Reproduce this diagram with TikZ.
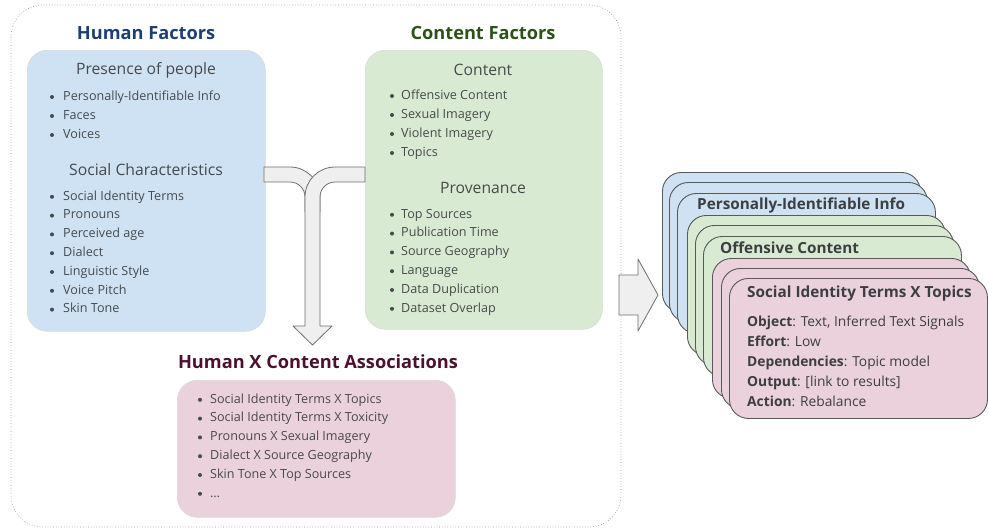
\documentclass[tikz,border=0pt]{standalone}
\usepackage{fontspec}
\setmainfont{Open Sans}
\usetikzlibrary{calc}

\definecolor{boxblue}{HTML}{CFE2F3}
\definecolor{boxgreen}{HTML}{D9EAD3}
\definecolor{boxpink}{HTML}{EAD1DC}
\definecolor{darkblue}{HTML}{1C3F75}
\definecolor{darkgreen}{HTML}{2B5219}
\definecolor{darkpink}{HTML}{4C1130}
\definecolor{txt}{HTML}{474A4C}
\definecolor{bandfill}{HTML}{EFEFEF}
\definecolor{bandline}{HTML}{6F6F6F}

\tikzset{
  panel/.style={draw=black!15, line width=0.6pt, rounded corners=20pt, anchor=north west, inner sep=0pt},
  card/.style={draw=black!65, line width=0.9pt, rounded corners=19pt, anchor=north west, minimum width=258pt, minimum height=140pt, inner sep=0pt},
  item/.style={anchor=west, inner sep=0pt, text=txt, font=\fontsize{12.6}{14}\selectfont, text height=9pt, text depth=2.6pt},
  head/.style={inner sep=0pt, text=txt, font=\fontsize{15.7}{18}\selectfont},
  title/.style={inner sep=0pt, font=\fontsize{18.2}{21}\selectfont\bfseries},
  cardtitle/.style={anchor=west, inner sep=0pt, text=txt!85!black, font=\fontsize{15.3}{17}\selectfont\bfseries},
  cardline/.style={anchor=west, inner sep=0pt, text=txt!85!black, font=\fontsize{13.8}{16}\selectfont, text height=10pt, text depth=3pt},
  band/.style={fill=bandfill, draw=bandline, line width=0.8pt, line join=round}
}

\begin{document}
\begin{tikzpicture}[x=1pt,y=-1pt]
  \useasboundingbox (0,0) rectangle (989,531);
  % dotted frame
  \draw[black!40, dotted, line width=0.7pt, rounded corners=32pt] (11,5) rectangle (621,527);

  % human factors
  \node[title, text=darkblue] (hf) at (146,33) {Human Factors};
  \node[panel, fill=boxblue, minimum width=238pt, minimum height=281pt] (hbox) at (27,50) {};
  \node[head] (presence) at (146,70) {Presence of people};
  \foreach \t [count=\i] in {Personally-Identifiable Info, Faces, Voices}
  {
  \fill[txt] (52,78+19*\i) circle (2pt);
  \node[item] (pp\i) at (63,78+19*\i) {\t};
  }
  \node[head] (social) at (146,170) {Social Characteristics};
  \foreach \t [count=\i] in {Social Identity Terms, Pronouns, Perceived age, Dialect, Linguistic Style, Voice Pitch, Skin Tone}
  {
  \fill[txt] (52,178+18.8*\i) circle (2pt);
  \node[item] (sc\i) at (63,178+18.8*\i) {\t};
  }

  % content factors
  \node[title, text=darkgreen] (cf) at (483,33) {Content Factors};
  \node[panel, fill=boxgreen, minimum width=237pt, minimum height=279pt] (cbox) at (365,50) {};
  \node[head] (content) at (483,70) {Content};
  \foreach \t [count=\i] in {Offensive Content, Sexual Imagery, Violent Imagery, Topics}
  {
  \fill[txt] (392,77+19*\i) circle (2pt);
  \node[item] (ct\i) at (401,77+19*\i) {\t};
  }
  \node[head] (prov) at (483,188) {Provenance};
  \foreach \t [count=\i] in {Top Sources, Publication Time, Source Geography, Language, Data Duplication, Dataset Overlap}
  {
  \fill[txt] (392,196+18.8*\i) circle (2pt);
  \node[item] (pv\i) at (401,196+18.8*\i) {\t};
  }

  % merging arrow
  \draw[band] (264,167) -- (290,167) .. controls (306.6,167) and (320,180.4) .. (320,197) -- (320,212) -- (305,212) -- (305,197) .. controls (305,188.7) and (298.3,182) .. (290,182) -- (264,182) -- cycle;
  \draw[band] (365,167) -- (335,167) .. controls (318.4,167) and (305,180.4) .. (305,197) -- (305,326) -- (293,326) -- (312.5,345) -- (332,326) -- (320,326) -- (320,197) .. controls (320,188.7) and (326.7,182) .. (335,182) -- (365,182) -- cycle;

  % associations
  \node[title, text=darkpink] (hc) at (318,362) {Human X Content Associations};
  \node[panel, fill=boxpink, minimum width=278pt, minimum height=137pt] (abox) at (177,380) {};
  \foreach \t [count=\i] in {Social Identity Terms X Topics, Social Identity Terms X Toxicity, Pronouns X Sexual Imagery, Dialect X Source Geography, Skin Tone X Top Sources, {\ldots}}
  {
  \fill[txt] (200,381+18.8*\i) circle (2pt);
  \node[item] (as\i) at (210,381+18.8*\i) {\t};
  }

  % arrow to the cards
  \draw[band] (619,275) -- (638,275) -- (638,259) -- (658,295) -- (638,331) -- (638,315) -- (619,315) -- cycle;

  % stack of cards
  \foreach \x/\y/\c [count=\i] in {662/172/boxblue, 669/182/boxblue, 677/193/boxblue, 687/215/boxgreen, 695/225/boxgreen, 703/236/boxgreen, 712/258/boxpink, 721/268/boxpink, 729/278/boxpink}
  {
  \node[card, fill=\c] (card\i) at (\x,\y) {};
  }
  \node[cardtitle] (pii) at ([xshift=20pt,yshift=-12pt]card3.north west) {Personally-Identifiable Info};
  \node[cardtitle] (off) at ([xshift=17pt,yshift=-12pt]card6.north west) {Offensive Content};
  \node[cardtitle] (sit) at ([xshift=18pt,yshift=-16pt]card9.north west) {Social Identity Terms X Topics};
  \node[cardline] (obj) at (747,323) {\textbf{Object}: Text, Inferred Text Signals};
  \node[cardline] (eff) at (747,343) {\textbf{Effort}: Low};
  \node[cardline] (dep) at (747,363) {\textbf{Dependencies}: Topic model};
  \node[cardline] (out) at (747,383) {\textbf{Output}: [link to results]};
  \node[cardline] (act) at (747,403) {\textbf{Action}: Rebalance};
\end{tikzpicture}
\end{document}
